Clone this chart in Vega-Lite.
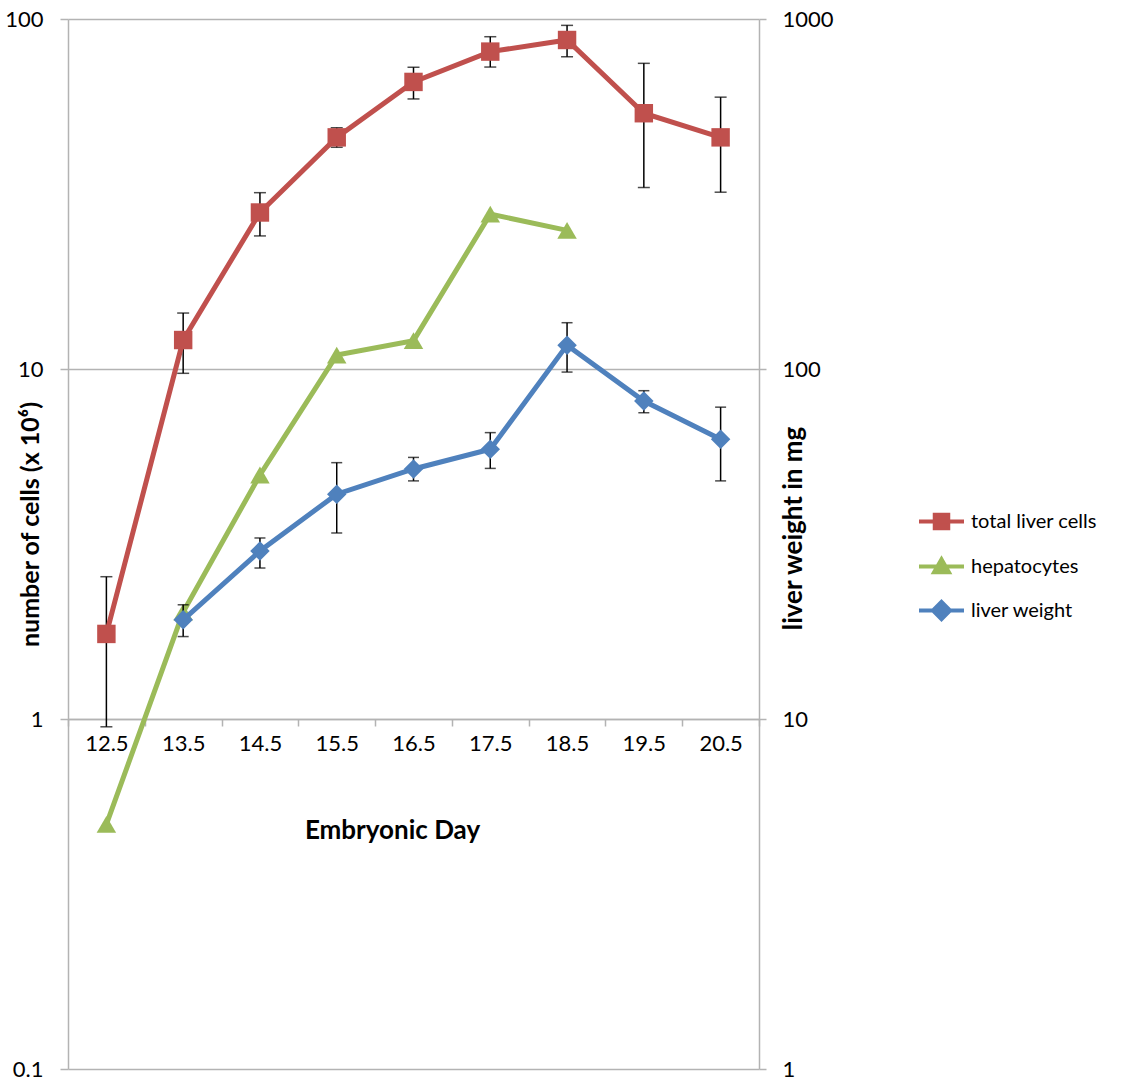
{
  "$schema": "https://vega.github.io/schema/vega-lite/v6.json",
  "width": 691,
  "height": 1050,
  "autosize": "none",
  "padding": {"left": 68, "top": 19, "right": 363, "bottom": 13},
  "background": "white",
  "config": {
    "font": "Lato",
    "view": {"stroke": null},
    "axis": {"labelFont": "Lato", "titleFont": "Lato", "labelColor": "#000", "titleColor": "#000"}
  },
  "data": {
    "values": [
      {"day": "12.5", "series": "total liver cells", "value": 1.75, "lo": 0.95, "hi": 2.55},
      {"day": "13.5", "series": "total liver cells", "value": 12.1, "lo": 9.72, "hi": 14.45},
      {"day": "14.5", "series": "total liver cells", "value": 28.0, "lo": 24.0, "hi": 31.9},
      {"day": "15.5", "series": "total liver cells", "value": 45.9, "lo": 43.0, "hi": 48.9},
      {"day": "16.5", "series": "total liver cells", "value": 66.1, "lo": 59.1, "hi": 72.8},
      {"day": "17.5", "series": "total liver cells", "value": 80.7, "lo": 72.9, "hi": 89.0},
      {"day": "18.5", "series": "total liver cells", "value": 87.1, "lo": 78.0, "hi": 95.9},
      {"day": "19.5", "series": "total liver cells", "value": 53.8, "lo": 33.0, "hi": 74.7},
      {"day": "20.5", "series": "total liver cells", "value": 45.9, "lo": 32.0, "hi": 59.8},
      {"day": "12.5", "series": "hepatocytes", "value": 0.5},
      {"day": "13.5", "series": "hepatocytes", "value": 2.02},
      {"day": "14.5", "series": "hepatocytes", "value": 4.98},
      {"day": "15.5", "series": "hepatocytes", "value": 10.96},
      {"day": "16.5", "series": "hepatocytes", "value": 12.05},
      {"day": "17.5", "series": "hepatocytes", "value": 27.7},
      {"day": "18.5", "series": "hepatocytes", "value": 24.9},
      {"day": "13.5", "series": "liver weight", "value": 19.2, "lo": 17.2, "hi": 21.2},
      {"day": "14.5", "series": "liver weight", "value": 30.2, "lo": 27.0, "hi": 32.9},
      {"day": "15.5", "series": "liver weight", "value": 43.9, "lo": 34.0, "hi": 54.0},
      {"day": "16.5", "series": "liver weight", "value": 51.8, "lo": 47.9, "hi": 55.9},
      {"day": "17.5", "series": "liver weight", "value": 59.0, "lo": 52.0, "hi": 65.8},
      {"day": "18.5", "series": "liver weight", "value": 117, "lo": 98, "hi": 135.6},
      {"day": "19.5", "series": "liver weight", "value": 81.0, "lo": 75.0, "hi": 86.7},
      {"day": "20.5", "series": "liver weight", "value": 63.0, "lo": 47.9, "hi": 77.8}
    ]
  },
  "encoding": {
    "x": {
      "field": "day",
      "type": "nominal",
      "scale": {"type": "band", "domain": ["12.5", "13.5", "14.5", "15.5", "16.5", "17.5", "18.5", "19.5", "20.5"], "paddingInner": 0, "paddingOuter": 0},
      "axis": {
        "orient": "bottom",
        "offset": -350,
        "title": "Embryonic Day",
        "titleFontSize": 26,
        "titleFontWeight": "bold",
        "titleX": 324,
        "titleY": 111,
        "titleAlign": "center",
        "titleBaseline": "middle",
        "labelFontSize": 22,
        "labelAngle": 0,
        "labelPadding": 7,
        "tickSize": 7,
        "tickColor": "#b3b3b3",
        "tickWidth": 1.5,
        "tickBand": "extent",
        "domainColor": "#b3b3b3",
        "domainWidth": 1.5,
        "grid": false
      }
    }
  },
  "layer": [
    {
      "layer": [
        {
          "transform": [{"filter": "datum.series === 'total liver cells'"}],
          "mark": {"type": "rule", "color": "black", "strokeWidth": 1.5},
          "encoding": {
            "y": {
              "field": "lo", "type": "quantitative",
              "scale": {"type": "log", "domain": [0.1, 100]},
              "axis": {
                "orient": "left",
                "values": [0.1, 1, 10, 100],
                "format": "~g",
                "title": "number of cells (x 10⁶)",
                "titleFontSize": 25,
                "titleFontWeight": "bold",
                "titleAngle": 270,
                "titleX": -38,
                "titleY": 505,
                "titleAlign": "center",
                "titleBaseline": "middle",
                "labelFontSize": 22,
                "labelPadding": 17,
                "tickSize": 8,
                "tickColor": "#b3b3b3",
                "tickWidth": 1.5,
                "domainColor": "#b3b3b3",
                "domainWidth": 1.5,
                "grid": true,
                "gridColor": "#b3b3b3",
                "gridWidth": 1.5
              }
            },
            "y2": {"field": "hi"}
          }
        },
        {
          "transform": [{"filter": "datum.series === 'total liver cells'"}],
          "mark": {"type": "tick", "color": "black", "size": 12, "thickness": 1.5},
          "encoding": {"y": {"field": "hi", "type": "quantitative", "scale": {"type": "log", "domain": [0.1, 100]}}}
        },
        {
          "transform": [{"filter": "datum.series === 'total liver cells'"}],
          "mark": {"type": "tick", "color": "black", "size": 12, "thickness": 1.5},
          "encoding": {"y": {"field": "lo", "type": "quantitative", "scale": {"type": "log", "domain": [0.1, 100]}}}
        },
        {
          "transform": [{"filter": "datum.series === 'hepatocytes'"}],
          "mark": {"type": "line", "strokeWidth": 5},
          "encoding": {
            "y": {"field": "value", "type": "quantitative", "scale": {"type": "log", "domain": [0.1, 100]}},
            "color": {"field": "series", "type": "nominal", "scale": {"domain": ["total liver cells", "hepatocytes", "liver weight"], "range": ["#C0504D", "#9BBB59", "#4F81BD"]}}
          }
        },
        {
          "transform": [{"filter": "datum.series === 'hepatocytes'"}],
          "mark": {"type": "point", "filled": true, "opacity": 1, "shape": "triangle-up", "size": 380},
          "encoding": {
            "y": {"field": "value", "type": "quantitative", "scale": {"type": "log", "domain": [0.1, 100]}},
            "color": {"field": "series", "type": "nominal", "scale": {"domain": ["total liver cells", "hepatocytes", "liver weight"], "range": ["#C0504D", "#9BBB59", "#4F81BD"]}}
          }
        },
        {
          "transform": [{"filter": "datum.series === 'total liver cells'"}],
          "mark": {"type": "line", "strokeWidth": 5},
          "encoding": {
            "y": {"field": "value", "type": "quantitative", "scale": {"type": "log", "domain": [0.1, 100]}},
            "color": {
              "field": "series", "type": "nominal",
              "scale": {"domain": ["total liver cells", "hepatocytes", "liver weight"], "range": ["#C0504D", "#9BBB59", "#4F81BD"]},
              "legend": {
                "orient": "none",
                "legendX": 849,
                "legendY": 478,
                "title": null,
                "padding": 0,
                "rowPadding": 5,
                "symbolSize": 2025,
                "symbolStrokeWidth": 4,
                "labelFont": "Lato",
                "labelFontSize": 20,
                "labelColor": "#000",
                "labelOffset": 5,
                "encode": {
                  "symbols": {
                    "update": {
                      "shape": {"signal": "datum.value === 'total liver cells' ? 'M-1,0H1M-0.3,-0.3H0.3V0.3H-0.3Z' : datum.value === 'hepatocytes' ? 'M-1,0H1M-0.33,0.26L0,-0.32L0.33,0.26Z' : 'M-1,0H1M0,-0.38L0.38,0L0,0.38L-0.38,0Z'"},
                      "stroke": {"scale": "color", "field": "value"},
                      "fill": {"scale": "color", "field": "value"},
                      "strokeWidth": {"value": 4},
                      "opacity": {"value": 1}
                    }
                  }
                }
              }
            }
          }
        },
        {
          "transform": [{"filter": "datum.series === 'total liver cells'"}],
          "mark": {"type": "point", "filled": true, "opacity": 1, "shape": "square", "size": 340},
          "encoding": {
            "y": {"field": "value", "type": "quantitative", "scale": {"type": "log", "domain": [0.1, 100]}},
            "color": {"field": "series", "type": "nominal", "scale": {"domain": ["total liver cells", "hepatocytes", "liver weight"], "range": ["#C0504D", "#9BBB59", "#4F81BD"]}}
          }
        }
      ]
    },
    {
      "layer": [
        {
          "transform": [{"filter": "datum.series === 'liver weight'"}],
          "mark": {"type": "rule", "color": "black", "strokeWidth": 1.5},
          "encoding": {
            "y": {
              "field": "lo", "type": "quantitative",
              "scale": {"type": "log", "domain": [1, 1000]},
              "axis": {
                "orient": "right",
                "values": [1, 10, 100, 1000],
                "format": "~g",
                "title": "liver weight in mg",
                "titleFontSize": 26,
                "titleFontWeight": "bold",
                "titleAngle": 270,
                "titleX": 34,
                "titleY": 509,
                "titleAlign": "center",
                "titleBaseline": "middle",
                "labelFontSize": 22,
                "labelPadding": 16,
                "tickSize": 7,
                "tickColor": "#b3b3b3",
                "tickWidth": 1.5,
                "domainColor": "#b3b3b3",
                "domainWidth": 1.5,
                "grid": false
              }
            },
            "y2": {"field": "hi"}
          }
        },
        {
          "transform": [{"filter": "datum.series === 'liver weight'"}],
          "mark": {"type": "tick", "color": "black", "size": 11, "thickness": 1.5},
          "encoding": {"y": {"field": "hi", "type": "quantitative", "scale": {"type": "log", "domain": [1, 1000]}}}
        },
        {
          "transform": [{"filter": "datum.series === 'liver weight'"}],
          "mark": {"type": "tick", "color": "black", "size": 11, "thickness": 1.5},
          "encoding": {"y": {"field": "lo", "type": "quantitative", "scale": {"type": "log", "domain": [1, 1000]}}}
        },
        {
          "transform": [{"filter": "datum.series === 'liver weight'"}],
          "mark": {"type": "line", "strokeWidth": 5},
          "encoding": {
            "y": {"field": "value", "type": "quantitative", "scale": {"type": "log", "domain": [1, 1000]}},
            "color": {"field": "series", "type": "nominal", "scale": {"domain": ["total liver cells", "hepatocytes", "liver weight"], "range": ["#C0504D", "#9BBB59", "#4F81BD"]}}
          }
        },
        {
          "transform": [{"filter": "datum.series === 'liver weight'"}],
          "mark": {"type": "point", "filled": true, "opacity": 1, "shape": "diamond", "size": 380},
          "encoding": {
            "y": {"field": "value", "type": "quantitative", "scale": {"type": "log", "domain": [1, 1000]}},
            "color": {"field": "series", "type": "nominal", "scale": {"domain": ["total liver cells", "hepatocytes", "liver weight"], "range": ["#C0504D", "#9BBB59", "#4F81BD"]}}
          }
        }
      ]
    }
  ],
  "resolve": {"scale": {"y": "independent"}}
}
